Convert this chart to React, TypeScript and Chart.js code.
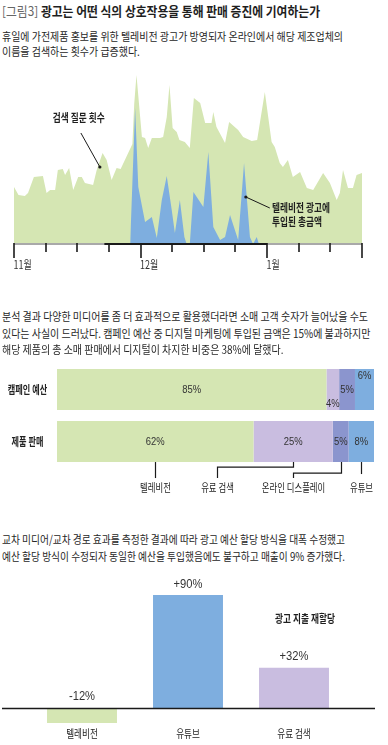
import React, { useEffect, useRef } from 'react';
import { Chart, registerables } from 'chart.js';

Chart.register(...registerables);

if (typeof document !== 'undefined') {
  document.body.style.margin = '0';
  document.body.style.background = '#ffffff';
}

const KR = '"Noto Sans CJK KR", "Noto Sans", sans-serif';
const NUM = '"Liberation Sans", Arial, sans-serif';

const GREEN = '#d5e6b3';
const BLUE = '#7eaedf';
const LILAC = '#c9bde0';
const PERI = '#8b95ce';
const INK = '#262626';

// ---------- Chart 1: search queries vs TV ad spend (daily) ----------
const MONTH_LABELS = ['11월', '12월', '1월'];
const MONTH_TICK_DAYS = [0, 28, 56];
const TOTAL_DAYS = 77;
const CAMPAIGN_DAYS = [20, 56];

const SEARCH_DAYS = [0, 1, 2.4, 3.1, 4.4, 6.4, 7.2, 8, 9.1, 9.7, 10.8, 11.3, 12.2, 13.1, 14.2, 15, 15.7, 17.5, 18.3, 19.6,
  20.5, 21.6, 22.7, 23.6, 26.2, 26.6, 27.1, 28.3, 29, 29.7, 30.5, 32.3, 33, 33.8, 34.4, 35.1, 36, 36.6, 37.8, 38.9, 39.8,
  41.2, 42.3, 43.7, 44.1, 44.8, 46.7, 47.6, 49.6, 50.7, 52.6, 53.8, 55.5, 57, 57.7, 58.8, 59.5, 60.6, 61.7, 63.3, 64.8,
  66.2, 68.4, 69.9, 71.4, 72.1, 72.8, 73.9, 75, 75.8, 77];
const SEARCH_VALUES = [57, 49, 48, 51, 67, 68, 51, 54, 54, 74, 75, 69, 76, 54, 67, 67, 61, 59, 74, 91,
  84, 64, 76, 75, 100, 140, 169, 107, 106, 96, 106, 106, 107, 127, 159, 116, 112, 104, 102, 96, 146,
  141, 121, 121, 132, 117, 101, 122, 114, 107, 103, 104, 152, 102, 97, 81, 77, 84, 67, 72, 56,
  54, 71, 61, 44, 51, 74, 56, 56, 69, 71];

const TV_DAYS = [25.7, 26.8, 27.5, 29, 30.5, 31.6, 32.7, 33.8, 34.9, 35.6, 36.7, 37.7, 38.2, 38.9, 39.7, 41.9, 43, 44.1,
  45.6, 46.7, 47.8, 49.6, 50.9, 52.2, 52.9, 53.7, 54.2];
const TV_VALUES = [0, 136, 57, 22, 27, 6, 44, 68, 34, 11, 44, 7, 0, 0, 52, 37, 92, 17,
  4, 7, 29, 4, 81, 7, 0, 7, 0];

// ---------- Chart 2: share of budget vs share of sales ----------
const SHARE_ROWS = ['캠페인 예산', '제품 판매'];
const CHANNELS = ['텔레비전', '유료 검색', '온라인 디스플레이', '유튜브'];
const BUDGET_SHARE = [85, 4, 5, 6];
const SALES_SHARE = [62, 25, 5, 8];
const CHANNEL_COLORS = [GREEN, LILAC, PERI, BLUE];

// ---------- Chart 3: spend reallocation ----------
const REALLOC_CATEGORIES = ['텔레비전', '유튜브', '유료 검색'];
const REALLOC_CHANGE = [-12, 90, 32];
const REALLOC_COLORS = [GREEN, BLUE, LILAC];

let mctx: CanvasRenderingContext2D | null = null;
function measure(text: string, font: string): number {
  if (!mctx) mctx = document.createElement('canvas').getContext('2d');
  mctx!.font = font;
  return mctx!.measureText(text).width;
}

type LabelOpts = { size?: number; weight?: number | string; family?: string; color?: string; align?: 'left' | 'center' | 'right'; scale?: number };
function drawLabel(ctx: CanvasRenderingContext2D, text: string, x: number, y: number, o: LabelOpts) {
  const size = o.size ?? 11;
  const weight = o.weight ?? 400;
  const family = o.family ?? KR;
  const scale = o.scale ?? 1;
  const align = o.align ?? 'center';
  ctx.save();
  ctx.font = `${weight} ${size}px ${family}`;
  ctx.fillStyle = o.color ?? INK;
  ctx.textBaseline = 'middle';
  ctx.textAlign = 'left';
  const w = ctx.measureText(text).width * scale;
  const left = align === 'center' ? x - w / 2 : align === 'right' ? x - w : x;
  ctx.translate(left, y);
  ctx.scale(scale, 1);
  ctx.fillText(text, 0, 0);
  ctx.restore();
}

type TL = { lines: string[]; x: number; cy: number[]; size: number; weight?: number; color?: string; fit: number; align?: 'left' | 'center' };
function TextLines({ lines, x, cy, size, weight = 400, color = INK, fit, align = 'left' }: TL) {
  const font = `${weight} ${size}px ${KR}`;
  const s = fit / measure(lines[0], font);
  const lh = Math.round(size * 1.4);
  return (
    <>
      {lines.map((ln, i) => {
        const w = measure(ln, font);
        const left = align === 'center' ? x - w / 2 : x;
        return (
          <div
            key={i}
            style={{
              position: 'absolute',
              left,
              top: cy[i] - lh / 2 - 0.06 * size,
              font,
              lineHeight: `${lh}px`,
              color,
              whiteSpace: 'pre',
              transform: `scaleX(${s})`,
              transformOrigin: align === 'center' ? `${w / 2}px 0` : '0 0',
            }}
          >
            {ln}
          </div>
        );
      })}
    </>
  );
}

function Title() {
  const f1 = `400 13px ${KR}`;
  const f2 = `700 13px ${KR}`;
  const t1 = '[그림3]';
  const t2 = ' 광고는 어떤 식의 상호작용을 통해 판매 증진에 기여하는가';
  const s = 318 / (measure(t1, f1) + measure(t2, f2));
  const lh = 18;
  return (
    <div style={{ position: 'absolute', left: 2, top: 11 - lh / 2 - 0.8, lineHeight: `${lh}px`, whiteSpace: 'pre', transform: `scaleX(${s})`, transformOrigin: '0 0' }}>
      <span style={{ font: f1, color: '#666' }}>{t1}</span>
      <span style={{ font: f2, color: '#1e1e1e' }}>{t2}</span>
    </div>
  );
}

function SearchChart() {
  const ref = useRef<HTMLCanvasElement>(null);
  useEffect(() => {
    const axisPlugin = {
      id: 'timeAxis',
      afterDatasetsDraw(chart: any) {
        const ctx: CanvasRenderingContext2D = chart.ctx;
        const xs = chart.scales.x;
        const ys = chart.scales.y;
        const y0 = ys.getPixelForValue(0);
        ctx.save();
        ctx.lineWidth = 2;
        ctx.strokeStyle = '#a9a9a9';
        ctx.beginPath();
        ctx.moveTo(xs.getPixelForValue(0), y0);
        ctx.lineTo(xs.getPixelForValue(TOTAL_DAYS), y0);
        ctx.stroke();
        ctx.strokeStyle = '#1a1a1a';
        ctx.beginPath();
        ctx.moveTo(xs.getPixelForValue(CAMPAIGN_DAYS[0]), y0);
        ctx.lineTo(xs.getPixelForValue(CAMPAIGN_DAYS[1]), y0);
        ctx.stroke();
        ctx.lineWidth = 1.6;
        for (let d = 0; d <= TOTAL_DAYS; d += 7) {
          const major = MONTH_TICK_DAYS.includes(d) || d === TOTAL_DAYS;
          const px = Math.round(xs.getPixelForValue(d));
          ctx.beginPath();
          ctx.moveTo(px, y0 - 1);
          ctx.lineTo(px, y0 + (major ? 14 : 8));
          ctx.stroke();
        }
        MONTH_LABELS.forEach((t, i) =>
          drawLabel(ctx, t, xs.getPixelForValue(MONTH_TICK_DAYS[i]) - 0.5, y0 + 21, { size: 11.5, align: 'left', scale: 0.78, color: '#333' })
        );
        // callouts
        const pt = (d: number, v: number) => [xs.getPixelForValue(d), ys.getPixelForValue(v)];
        ctx.strokeStyle = '#1a1a1a';
        ctx.fillStyle = '#1a1a1a';
        ctx.lineWidth = 1;
        const lines = [
          [[14.8, 111], [19.0, 77]],
          [[51.3, 47], [56.6, 36]],
        ];
        const dotAt = [1, 0];
        lines.forEach((seg, k) => {
          const a = pt(seg[0][0], seg[0][1]);
          const b = pt(seg[1][0], seg[1][1]);
          ctx.beginPath();
          ctx.moveTo(a[0], a[1]);
          ctx.lineTo(b[0], b[1]);
          ctx.stroke();
          const d = dotAt[k] === 0 ? a : b;
          ctx.beginPath();
          ctx.arc(d[0], d[1], 1.6, 0, Math.PI * 2);
          ctx.fill();
        });
        ctx.restore();
      },
    };
    const chart = new Chart(ref.current!, {
      type: 'line',
      data: {
        datasets: [
          {
            label: '텔레비전 광고에 투입된 총금액',
            data: TV_DAYS.map((d, i) => ({ x: d, y: TV_VALUES[i] })),
            backgroundColor: BLUE,
            borderColor: 'rgba(0,0,0,0)',
            borderWidth: 0,
            fill: 'origin',
            pointRadius: 0,
            tension: 0,
          },
          {
            label: '검색 질문 횟수',
            data: SEARCH_DAYS.map((d, i) => ({ x: d, y: SEARCH_VALUES[i] })),
            backgroundColor: GREEN,
            borderColor: 'rgba(0,0,0,0)',
            borderWidth: 0,
            fill: 'origin',
            pointRadius: 0,
            tension: 0,
          },
        ],
      },
      options: {
        animation: false,
        responsive: false,
        maintainAspectRatio: false,
        layout: { padding: { left: 14, right: 26, top: 14, bottom: 36 } },
        scales: {
          x: { type: 'linear', min: 0, max: TOTAL_DAYS, display: false },
          y: { min: 0, max: 170, display: false },
        },
        plugins: { legend: { display: false }, tooltip: { enabled: false } },
      },
      plugins: [axisPlugin],
    } as any);
    return () => chart.destroy();
  }, []);
  return <canvas ref={ref} width={388} height={220} style={{ position: 'absolute', left: 0, top: 60, width: 388, height: 220 }} />;
}

const ROW0_LABEL_SHIFT = [0, 14, 0, -13.5];
const LEADER_ANCHOR: (number | null)[] = [null, 50.5, 74.4, null];
const LEADER_ELBOW = [0, 5, 11, 0];
const LEADER_END = [16, 16, 16, 12];

function ShareChart() {
  const ref = useRef<HTMLCanvasElement>(null);
  useEffect(() => {
    const labelPlugin = {
      id: 'shareLabels',
      afterDatasetsDraw(chart: any) {
        const ctx: CanvasRenderingContext2D = chart.ctx;
        const xs = chart.scales.x;
        chart.data.datasets.forEach((ds: any, i: number) => {
          const meta = chart.getDatasetMeta(i);
          meta.data.forEach((el: any, r: number) => {
            const p = el.getProps(['x', 'y', 'base'], true);
            const cx = (p.x + p.base) / 2;
            const dy = r === 0 ? ROW0_LABEL_SHIFT[i] : 0;
            drawLabel(ctx, `${ds.data[r]}%`, cx, p.y + dy, { size: 11.5, family: NUM, scale: 0.82, color: '#333' });
          });
        });
        const m0 = chart.getDatasetMeta(0);
        SHARE_ROWS.forEach((t, r) => {
          const p = m0.data[r].getProps(['y'], true);
          drawLabel(ctx, t, 27.5, p.y, { size: 11, weight: 700, scale: 0.74, color: '#222' });
        });
        ctx.save();
        ctx.strokeStyle = '#1a1a1a';
        ctx.lineWidth = 1.2;
        CHANNELS.forEach((name, i) => {
          const el = chart.getDatasetMeta(i).data[1];
          const p = el.getProps(['x', 'y', 'base', 'height'], true);
          const cx = Math.round((p.x + p.base) / 2) + 0.5;
          const bottom = p.y + p.height / 2;
          const anchor = LEADER_ANCHOR[i];
          const ax = anchor == null ? cx : Math.round(xs.getPixelForValue(anchor)) + 0.5;
          ctx.beginPath();
          ctx.moveTo(cx, bottom);
          if (LEADER_ELBOW[i] > 0) {
            ctx.lineTo(cx, bottom + LEADER_ELBOW[i]);
            ctx.lineTo(ax, bottom + LEADER_ELBOW[i]);
          }
          ctx.lineTo(ax, bottom + LEADER_END[i]);
          ctx.stroke();
          drawLabel(ctx, name, ax, bottom + 26, { size: 11, scale: 0.76, color: '#222' });
        });
        ctx.restore();
      },
    };
    const chart = new Chart(ref.current!, {
      type: 'bar',
      data: {
        labels: SHARE_ROWS,
        datasets: CHANNELS.map((ch, i) => ({
          label: ch,
          data: [BUDGET_SHARE[i], SALES_SHARE[i]],
          backgroundColor: CHANNEL_COLORS[i],
          borderWidth: 0,
          barPercentage: 0.79,
          categoryPercentage: 1,
        })),
      },
      options: {
        indexAxis: 'y',
        animation: false,
        responsive: false,
        maintainAspectRatio: false,
        layout: { padding: { left: 57, right: 14, top: 13.5, bottom: 32.5 } },
        scales: {
          x: { stacked: true, min: 0, max: 100, display: false },
          y: { stacked: true, display: false },
        },
        plugins: { legend: { display: false }, tooltip: { enabled: false } },
      },
      plugins: [labelPlugin],
    } as any);
    return () => chart.destroy();
  }, []);
  return <canvas ref={ref} width={388} height={150} style={{ position: 'absolute', left: 0, top: 350, width: 388, height: 150 }} />;
}

function ReallocChart() {
  const ref = useRef<HTMLCanvasElement>(null);
  useEffect(() => {
    const plugin = {
      id: 'reallocLabels',
      afterDatasetsDraw(chart: any) {
        const ctx: CanvasRenderingContext2D = chart.ctx;
        const ys = chart.scales.y;
        const y0 = Math.round(ys.getPixelForValue(0)) + 0.5;
        ctx.save();
        ctx.strokeStyle = '#1a1a1a';
        ctx.lineWidth = 1.3;
        ctx.beginPath();
        ctx.moveTo(2, y0);
        ctx.lineTo(chart.width - 13, y0);
        ctx.stroke();
        ctx.restore();
        const meta = chart.getDatasetMeta(0);
        meta.data.forEach((el: any, i: number) => {
          const p = el.getProps(['x', 'y'], true);
          const v = REALLOC_CHANGE[i];
          const txt = v > 0 ? `+${v}%` : `${v}%`;
          const ly = v > 0 ? p.y - 11 : y0 - 12;
          drawLabel(ctx, txt, p.x, ly, { size: 13, family: NUM, scale: 0.86, color: '#333' });
          drawLabel(ctx, REALLOC_CATEGORIES[i], p.x, y0 + 25, { size: 11, scale: 0.78, color: '#222' });
        });
      },
    };
    const chart = new Chart(ref.current!, {
      type: 'bar',
      data: {
        labels: REALLOC_CATEGORIES,
        datasets: [
          {
            label: '광고 지출 재할당',
            data: REALLOC_CHANGE,
            backgroundColor: REALLOC_COLORS,
            borderWidth: 0,
            barPercentage: 0.66,
            categoryPercentage: 1,
          },
        ],
      },
      options: {
        animation: false,
        responsive: false,
        maintainAspectRatio: false,
        layout: { padding: { left: 29, right: 41, top: 12.4, bottom: 11.9 } },
        scales: {
          x: { display: false },
          y: { min: -20, max: 100, display: false },
        },
        plugins: { legend: { display: false }, tooltip: { enabled: false } },
      },
      plugins: [plugin],
    } as any);
    return () => chart.destroy();
  }, []);
  return <canvas ref={ref} width={388} height={175} style={{ position: 'absolute', left: 0, top: 570, width: 388, height: 175 }} />;
}

export default function App() {
  return (
    <div style={{ position: 'relative', width: 388, height: 745, background: '#fff', overflow: 'hidden' }}>
      <SearchChart />
      <ShareChart />
      <ReallocChart />
      <Title />
      <TextLines
        lines={['휴일에 가전제품 홍보를 위한 텔레비전 광고가 방영되자 온라인에서 해당 제조업체의', '이름을 검색하는 횟수가 급증했다.']}
        x={2}
        cy={[36.7, 51.7]}
        size={11.5}
        fit={341}
      />
      <TextLines lines={['검색 질문 횟수']} x={79} cy={[118]} size={11} weight={700} fit={52} align="center" color="#1e1e1e" />
      <TextLines lines={['텔레비전 광고에', '투입된 총금액']} x={272} cy={[208, 222]} size={11} weight={700} fit={58} color="#1e1e1e" />
      <TextLines
        lines={[
          '분석 결과 다양한 미디어를 좀 더 효과적으로 활용했더라면 소매 고객 숫자가 늘어났을 수도',
          '있다는 사실이 드러났다. 캠페인 예산 중 디지털 마케팅에 투입된 금액은 15%에 불과하지만',
          '해당 제품의 총 소매 판매에서 디지털이 차지한 비중은 38%에 달했다.',
        ]}
        x={2}
        cy={[316.7, 333.3, 350]}
        size={11.5}
        fit={366}
      />
      <TextLines
        lines={[
          '교차 미디어/교차 경로 효과를 측정한 결과에 따라 광고 예산 할당 방식을 대폭 수정했고',
          '예산 할당 방식이 수정되자 동일한 예산을 투입했음에도 불구하고 매출이 9% 증가했다.',
        ]}
        x={2}
        cy={[540, 557]}
        size={11.5}
        fit={343}
      />
      <TextLines lines={['광고 지출 재할당']} x={305} cy={[619]} size={11} weight={700} fit={60} align="center" color="#1e1e1e" />
    </div>
  );
}
